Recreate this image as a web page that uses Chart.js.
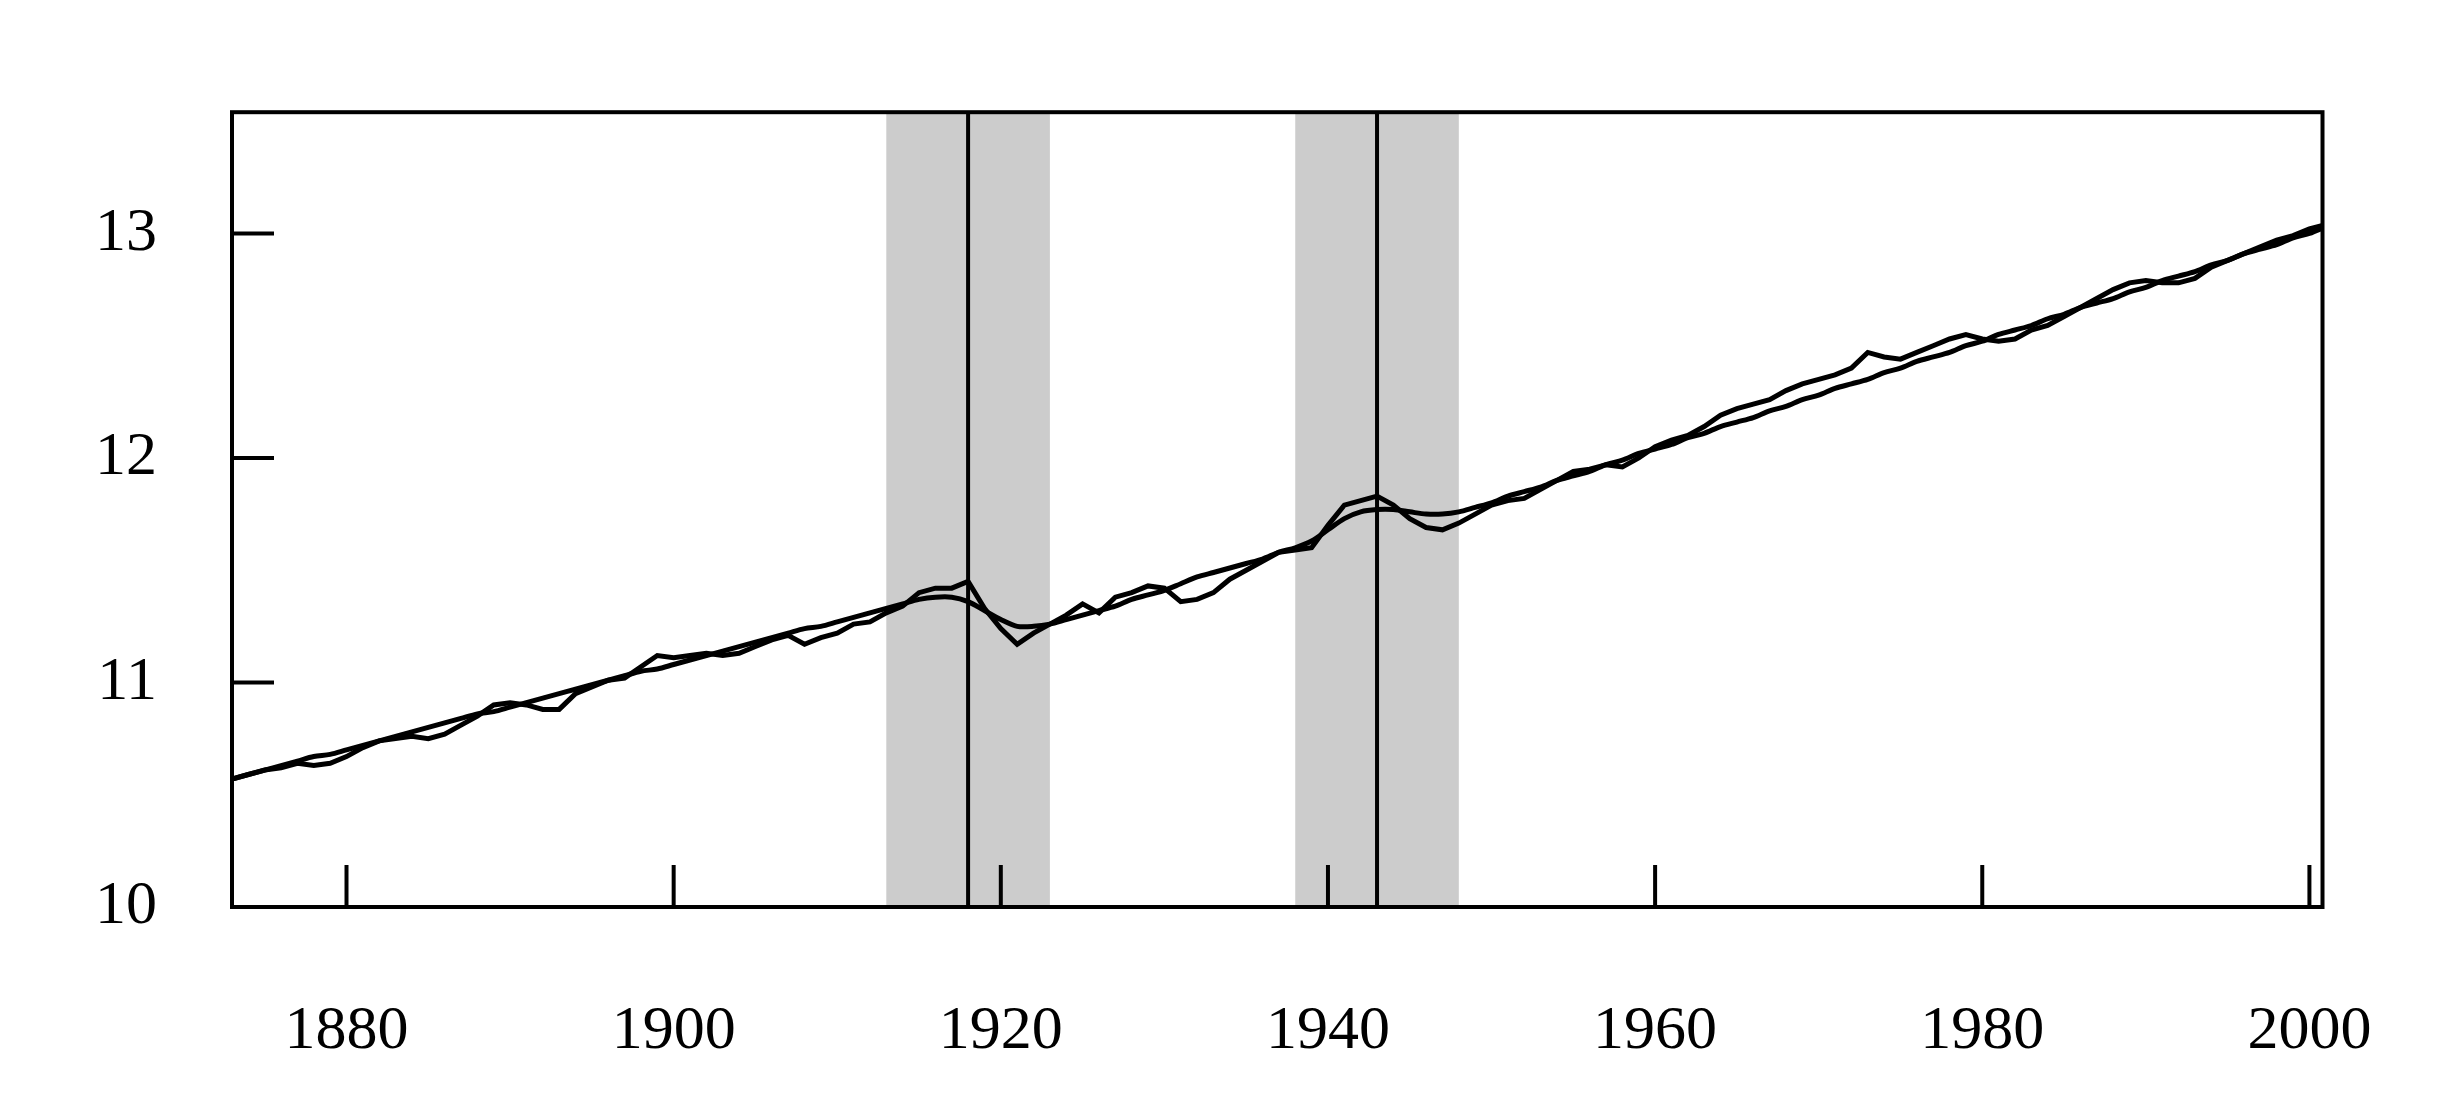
<!DOCTYPE html>
<html>
<head>
<meta charset="utf-8">
<script src="https://cdn.jsdelivr.net/npm/chart.js@4.4.1/dist/chart.umd.min.js"></script>
<style>
  html, body { margin: 0; padding: 0; background: #fff; overflow: hidden; }
  canvas { display: block; }
</style>
</head>
<body>
<canvas id="chart" width="2460" height="1105" style="width:2460px;height:1105px"></canvas>
<script>
// years 1873..2001
const firstYear = 1873
const actual = [
  10.57,10.59,10.61,10.62,10.64,10.63,10.64,10.67,10.71,10.74,
  10.75,10.76,10.75,10.77,10.81,10.85,10.90,10.91,10.90,10.88,
  10.88,10.95,10.98,11.01,11.02,11.07,11.12,11.11,11.12,11.13,
  11.12,11.13,11.16,11.19,11.21,11.17,11.20,11.22,11.26,11.27,
  11.31,11.34,11.40,11.42,11.42,11.45,11.33,11.24,11.17,11.22,
  11.26,11.30,11.35,11.31,11.38,11.40,11.43,11.42,11.36,11.37,
  11.40,11.46,11.50,11.54,11.58,11.59,11.60,11.70,11.79,11.81,
  11.83,11.79,11.73,11.69,11.68,11.71,11.75,11.79,11.81,11.82,
  11.86,11.90,11.94,11.95,11.97,11.96,12.00,12.05,12.08,12.10,
  12.14,12.19,12.22,12.24,12.26,12.30,12.33,12.35,12.37,12.40,
  12.47,12.45,12.44,12.47,12.50,12.53,12.55,12.53,12.52,12.53,
  12.57,12.59,12.63,12.67,12.71,12.75,12.78,12.79,12.78,12.78,
  12.80,12.85,12.88,12.91,12.94,12.97,12.99,13.02,13.04
]
const trend = [
  10.57,10.59,10.61,10.63,10.65,10.67,10.68,10.70,10.72,10.74,
  10.76,10.78,10.80,10.82,10.84,10.86,10.87,10.89,10.91,10.93,
  10.95,10.97,10.99,11.01,11.03,11.05,11.06,11.08,11.10,11.12,
  11.14,11.16,11.18,11.20,11.22,11.24,11.25,11.27,11.29,11.31,
  11.33,11.35,11.37,11.38,11.38,11.36,11.32,11.28,11.25,11.25,
  11.26,11.28,11.30,11.32,11.34,11.37,11.39,11.41,11.44,11.47,
  11.49,11.51,11.53,11.55,11.58,11.60,11.63,11.68,11.73,11.76,
  11.77,11.77,11.76,11.75,11.75,11.76,11.78,11.80,11.83,11.85,
  11.87,11.90,11.92,11.94,11.97,11.99,12.02,12.04,12.06,12.09,
  12.11,12.14,12.16,12.18,12.21,12.23,12.26,12.28,12.31,12.33,
  12.35,12.38,12.40,12.43,12.45,12.47,12.50,12.52,12.55,12.57,
  12.59,12.62,12.64,12.67,12.69,12.71,12.74,12.76,12.79,12.81,
  12.83,12.86,12.88,12.91,12.93,12.95,12.98,13.00,13.03
]
const xTicks = [1880, 1900, 1920, 1940, 1960, 1980, 2000]
const yTicks = [10, 11, 12, 13]
const bands = [[1913, 1923], [1938, 1948]]
const warLines = [1918, 1943]

const toPts = arr => arr.map((v, i) => ({x: firstYear + i, y: v}))

const decor = {
  id: 'decor',
  beforeDatasetsDraw(chart) {
    const {ctx, chartArea: a, scales: {x}} = chart
    ctx.save()
    ctx.fillStyle = '#cccccc'
    bands.forEach(b => {
      const x0 = x.getPixelForValue(b[0]), x1 = x.getPixelForValue(b[1])
      ctx.fillRect(x0, a.top, x1 - x0, a.bottom - a.top)
    })
    ctx.strokeStyle = '#000'
    ctx.lineWidth = 4
    warLines.forEach(w => {
      const px = x.getPixelForValue(w)
      ctx.beginPath(); ctx.moveTo(px, a.top); ctx.lineTo(px, a.bottom); ctx.stroke()
    })
    ctx.restore()
  },
  afterDraw(chart) {
    const {ctx, chartArea: a, scales: {x, y}} = chart
    ctx.save()
    ctx.strokeStyle = '#000'
    ctx.lineWidth = 4
    ctx.strokeRect(a.left, a.top, a.right - a.left, a.bottom - a.top)
    xTicks.forEach(t => {
      const px = x.getPixelForValue(t)
      ctx.beginPath(); ctx.moveTo(px, a.bottom); ctx.lineTo(px, a.bottom - 42); ctx.stroke()
    })
    yTicks.forEach(t => {
      const py = y.getPixelForValue(t)
      ctx.beginPath(); ctx.moveTo(a.left, py); ctx.lineTo(a.left + 42, py); ctx.stroke()
    })
    ctx.restore()
  }
}

new Chart(document.getElementById('chart'), {
  type: 'line',
  data: {
    datasets: [
      {data: toPts(trend), borderColor: '#000', borderWidth: 5, pointRadius: 0, tension: 0.3},
      {data: toPts(actual), borderColor: '#000', borderWidth: 5, pointRadius: 0, tension: 0}
    ]
  },
  options: {
    responsive: false,
    devicePixelRatio: 1,
    animation: false,
    layout: {padding: {left: 0, top: 24, right: 93, bottom: 0}},
    plugins: {legend: {display: false}, tooltip: {enabled: false}},
    scales: {
      x: {
        type: 'linear', min: 1873, max: 2000.8,
        grid: {display: false, drawTicks: false},
        border: {display: false},
        afterBuildTicks: s => { s.ticks = xTicks.map(v => ({value: v})) },
        afterFit: s => { s.height = 198 },
        ticks: {padding: 88, color: '#000', font: {family: 'Liberation Serif', size: 62}, maxRotation: 0,
                callback: v => String(v)}
      },
      y: {
        min: 10, max: 13.54,
        grid: {display: false, drawTicks: false},
        border: {display: false},
        afterBuildTicks: s => { s.ticks = yTicks.map(v => ({value: v})) },
        afterFit: s => { s.width = 232 },
        ticks: {padding: 75, color: '#000', font: {family: 'Liberation Serif', size: 62},
                callback: v => String(v)}
      }
    }
  },
  plugins: [decor]
})
</script>
</body>
</html>
